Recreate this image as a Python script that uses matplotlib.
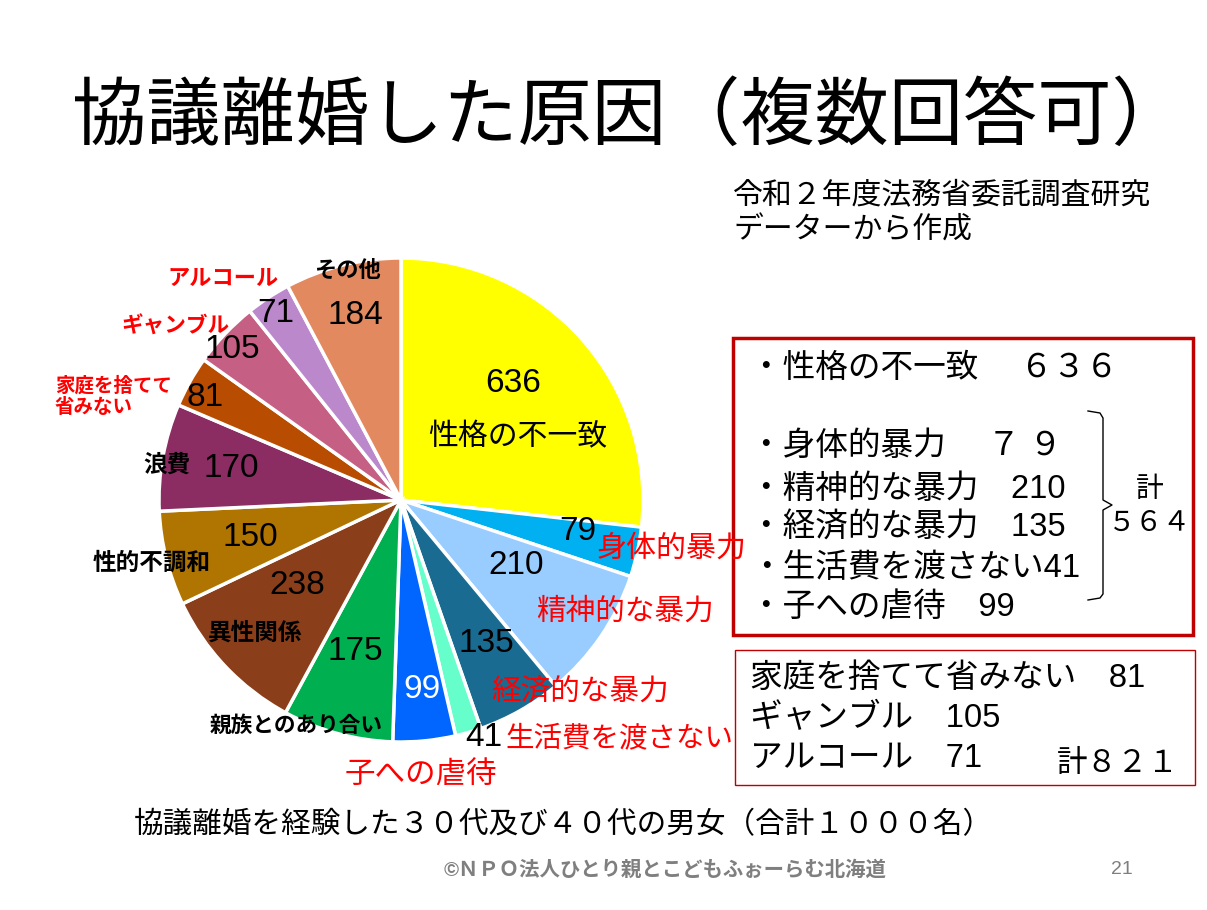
import matplotlib
matplotlib.use('Agg')
import matplotlib.pyplot as plt
import matplotlib as mpl

mpl.rcParams['font.family'] = ['Liberation Sans', 'Noto Sans CJK JP', 'DejaVu Sans']

W, H = 1207, 910

# データ（時計回り、上から）
categories = ['性格の不一致', '身体的暴力', '精神的な暴力', '経済的な暴力', '生活費を渡さない',
              '子への虐待', '親族とのあり合い', '異性関係', '性的不調和', '浪費',
              '家庭を捨てて\n省みない', 'ギャンブル', 'アルコール', 'その他']
values = [636, 79, 210, 135, 41, 99, 175, 238, 150, 170, 81, 105, 71, 184]
colors = ['#FFFF00', '#00B0F0', '#99CCFF', '#1A6B92', '#66FFCC', '#0066FF', '#00B050',
          '#8B3E1A', '#B07500', '#8B2C62', '#B84C00', '#C65F84', '#BB88CC', '#E3895F']
label_red = [False, True, True, True, True, True, False, False, False, False, True, True, True, False]

# ラベル位置（ピクセル）
val_pos = [(513, 383), (578, 532), (516, 565), (486, 643), (484, 738), (422, 690), (355, 652),
           (297, 586), (250, 537), (231, 469), (205, 397), (232, 349), (276, 314), (355, 315)]
cat_pos = [(518, 437), (672, 549), (625, 612), (580, 692), (619, 739), (421, 775), (296, 726),
           (255, 633), (152, 563), (167, 465), (55, 397), (175, 327), (223, 279), (347, 271)]
cat_size = [21.5, 21.6, 21.3, 21.3, 20.5, 22, 15.6, 17, 17, 17, 14, 15.6, 16, 16]

fig = plt.figure(figsize=(W / 100, H / 100), dpi=100)


def px(x, y):
    return x / W, 1 - y / H


# 円グラフ
cx, cy, r = 401, 500, 242
ax = fig.add_axes([(cx - r) / W, (H - cy - r) / H, 2 * r / W, 2 * r / H])
ax.pie(values, colors=colors, startangle=90, counterclock=False, radius=1,
       wedgeprops=dict(edgecolor='white', linewidth=2.5))
ax.set_xlim(-1, 1)
ax.set_ylim(-1, 1)
ax.set_aspect('auto')
ax.axis('off')

for i, v in enumerate(values):
    c = 'white' if i == 5 else 'black'
    fig.text(*px(*val_pos[i]), str(v), fontsize=24, color=c, ha='center', va='center')
    if i == 0:
        fig.text(*px(*cat_pos[i]), categories[i], fontsize=cat_size[i], ha='center', va='center')
    elif i == 10:
        fig.text(*px(*cat_pos[i]), categories[i], fontsize=cat_size[i], color='red',
                 fontweight='bold', ha='left', va='center', linespacing=1.15,
                 multialignment='left')
    else:
        fig.text(*px(*cat_pos[i]), categories[i], fontsize=cat_size[i],
                 color='red' if label_red[i] else 'black',
                 fontweight='bold' if not label_red[i] or i >= 10 else 'normal',
                 ha='center', va='center')

# タイトル
fig.text(*px(629, 118), '協議離婚した原因（複数回答可）', fontsize=53.5, ha='center', va='center')
fig.text(*px(733, 195), '令和２年度法務省委託調査研究', fontsize=21.5, ha='left', va='center')
fig.text(*px(733, 231), 'データーから作成', fontsize=21.5, ha='left', va='center')

# 枠1
box1 = plt.Rectangle(px(733, 635), 460 / W, 297 / H, transform=fig.transFigure,
                     fill=False, edgecolor='#C00000', linewidth=2.5)
fig.add_artist(box1)
lines1 = [('・性格の不一致　 ６３６', 368), ('・身体的暴力　 ７ ９', 447),
          ('・精神的な暴力　210', 489), ('・経済的な暴力　135', 528),
          ('・生活費を渡さない41', 568), ('・子への虐待　99', 607)]
for t, y in lines1:
    fig.text(*px(750, y), t, fontsize=23.5, ha='left', va='center')

# 括弧
bx = [1088, 1100, 1103, 1103, 1112, 1103, 1103, 1100, 1088]
by = [411, 413, 418, 500, 505, 510, 594, 598, 600]
fig.add_artist(plt.Line2D([x / W for x in bx], [1 - y / H for y in by],
                          transform=fig.transFigure, color='black', linewidth=1))
fig.text(*px(1150, 490), '計', fontsize=20, ha='center', va='center')
fig.text(*px(1150, 524), '５６４', fontsize=20, ha='center', va='center')

# 枠2
box2 = plt.Rectangle(px(735, 785), 460 / W, 135 / H, transform=fig.transFigure,
                     fill=False, edgecolor='#C00000', linewidth=1)
fig.add_artist(box2)
fig.text(*px(750, 678), '家庭を捨てて省みない　81', fontsize=23.5, ha='left', va='center')
fig.text(*px(750, 718), 'ギャンブル　105', fontsize=23.5, ha='left', va='center')
fig.text(*px(750, 758), 'アルコール　71', fontsize=23.5, ha='left', va='center')
fig.text(*px(1118, 764), '計８２１', fontsize=22, ha='center', va='center')

# 下部
fig.text(*px(563, 825), '協議離婚を経験した３０代及び４０代の男女（合計１０００名）', fontsize=21.3,
         ha='center', va='center')
fig.text(*px(665, 870), '©ＮＰＯ法人ひとり親とこどもふぉーらむ北海道', fontsize=14.7, color='#7F7F7F',
         ha='center', va='center', fontweight='bold')
fig.text(*px(1122, 870), '21', fontsize=14, color='#7F7F7F', ha='center', va='center')

fig.savefig('out.png', dpi=100)
